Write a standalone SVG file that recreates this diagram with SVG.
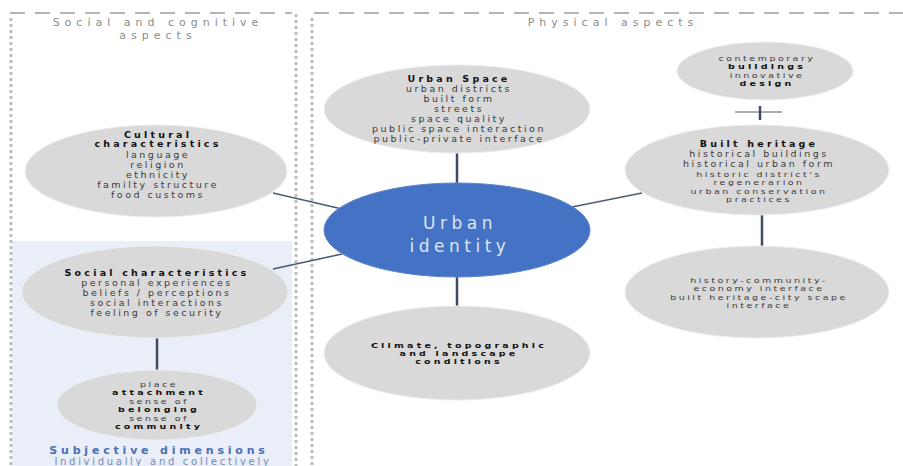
<svg xmlns="http://www.w3.org/2000/svg" width="903" height="466" viewBox="0 0 903 466">
<style>
.bg{fill:#ffffff}
.ell{fill:#d9d9d9;stroke:#eeeeee;stroke-width:1}
.t{font-family:"DejaVu Sans",sans-serif;font-size:9.5px;fill:#3a3a3a;letter-spacing:2.5px;text-anchor:middle}
.b{font-family:"DejaVu Sans",sans-serif;font-size:9.5px;font-weight:bold;fill:#111;letter-spacing:3.2px;text-anchor:middle}
.hdr{font-family:"DejaVu Sans",sans-serif;font-size:11px;fill:#8c8c8c;letter-spacing:5px;text-anchor:middle}
.dashH{stroke:#b5b5b5;stroke-width:2;stroke-dasharray:15 10;fill:none}
.dashV{stroke:#bdbdbd;stroke-width:3;stroke-dasharray:3 3;fill:none}
.con{stroke:#4a5a72;stroke-width:1.5;fill:none}
.conT{stroke:#3f4c62;stroke-width:2.5;fill:none}
</style>
<rect class="bg" x="0" y="0" width="903" height="466"/>
<rect x="12" y="241" width="280" height="225" fill="#e9eef8"/>
<g id="frames">
<line class="dashH" x1="10" y1="13" x2="292" y2="13"/>
<line class="dashH" x1="314" y1="13" x2="903" y2="13"/>
<line class="dashV" x1="11" y1="18" x2="11" y2="466"/>
<line class="dashV" x1="296" y1="14" x2="296" y2="466"/>
<line class="dashV" x1="312" y1="18" x2="312" y2="466"/>
<text class="hdr" x="158" y="26">Social and cognitive</text>
<text class="hdr" x="158" y="39">aspects</text>
<text class="hdr" x="613" y="26">Physical aspects</text>
</g>
<g id="connectors">
<line class="con" x1="273" y1="193" x2="342" y2="209"/>
<line class="con" x1="273" y1="269" x2="342" y2="254"/>
<line class="con" x1="572" y1="207" x2="642" y2="193"/>
<line class="conT" x1="457" y1="152" x2="457" y2="184"/>
<line class="conT" x1="457" y1="276" x2="457" y2="308"/>
<line class="conT" x1="762" y1="214" x2="762" y2="247"/>
<line class="conT" x1="157" y1="338" x2="157" y2="370"/>
<line stroke="#8a8f98" stroke-width="1.5" x1="735" y1="112" x2="782" y2="112"/>
<line stroke="#3f4c62" stroke-width="2.5" x1="760" y1="106" x2="760" y2="120"/>
</g>
<g id="cultural">
<ellipse class="ell" cx="156" cy="171" rx="131" ry="46"/>
<text class="b" transform="translate(158,138) scale(1,0.85)">Cultural</text>
<text class="b" transform="translate(158,147) scale(1,0.85)">characteristics</text>
<text class="t" x="158" y="158">language</text>
<text class="t" x="158" y="168">religion</text>
<text class="t" x="158" y="178">ethnicity</text>
<text class="t" x="158" y="188">familty structure</text>
<text class="t" x="158" y="198">food customs</text>
</g>
<g id="social">
<ellipse class="ell" cx="155" cy="292" rx="133" ry="46"/>
<text class="b" x="157" y="276">Social characteristics</text>
<text class="t" x="157" y="286">personal experiences</text>
<text class="t" x="157" y="296">beliefs / perceptions</text>
<text class="t" x="157" y="306">social interactions</text>
<text class="t" x="157" y="316">feeling of security</text>
</g>
<g id="place">
<ellipse class="ell" cx="157" cy="405" rx="100" ry="35"/>
<text class="t" transform="translate(159,387) scale(1,0.75)">place</text>
<text class="b" transform="translate(159,395) scale(1,0.75)">attachment</text>
<text class="t" transform="translate(159,404) scale(1,0.75)">sense of</text>
<text class="b" transform="translate(159,412) scale(1,0.75)">belonging</text>
<text class="t" transform="translate(159,421) scale(1,0.75)">sense of</text>
<text class="b" transform="translate(159,429) scale(1,0.75)">community</text>
</g>
<g id="subjective">
<text x="159" y="454" font-family="DejaVu Sans, sans-serif" font-size="11" font-weight="bold" fill="#4a6fb3" letter-spacing="3.8" text-anchor="middle">Subjective dimensions</text>
<text x="163" y="465" font-family="DejaVu Sans, sans-serif" font-size="10" fill="#6d8cc2" letter-spacing="2.7" text-anchor="middle">Individually and collectively</text>
</g>
<g id="urban-space">
<ellipse class="ell" cx="457" cy="109" rx="133" ry="44"/>
<text class="b" x="459" y="82">Urban Space</text>
<text class="t" x="459" y="92">urban districts</text>
<text class="t" x="459" y="102">built form</text>
<text class="t" x="459" y="112">streets</text>
<text class="t" x="459" y="122">space quality</text>
<text class="t" x="459" y="132">public space interaction</text>
<text class="t" x="459" y="142">public-private interface</text>
</g>
<g id="urban-identity">
<ellipse cx="457" cy="230" rx="133" ry="47" fill="#4472c4" stroke="#5b84cc" stroke-width="1"/>
<text x="460" y="229" font-family="DejaVu Sans, sans-serif" font-size="17" fill="#dce6f4" letter-spacing="4.5" text-anchor="middle">Urban</text>
<text x="460" y="252" font-family="DejaVu Sans, sans-serif" font-size="17" fill="#dce6f4" letter-spacing="4.5" text-anchor="middle">identity</text>
</g>
<g id="climate">
<ellipse class="ell" cx="457" cy="353" rx="133" ry="47"/>
<text class="b" transform="translate(459,348) scale(1,0.75)">Climate, topographic</text>
<text class="b" transform="translate(459,356) scale(1,0.75)">and landscape</text>
<text class="b" transform="translate(459,364) scale(1,0.75)">conditions</text>
</g>
<g id="contemporary">
<ellipse class="ell" cx="765" cy="71" rx="88" ry="29"/>
<text class="t" transform="translate(767,61) scale(1,0.75)">contemporary</text>
<text class="b" transform="translate(767,69) scale(1,0.75)">buildings</text>
<text class="t" transform="translate(767,78) scale(1,0.75)">innovative</text>
<text class="b" transform="translate(767,86) scale(1,0.75)">design</text>
</g>
<g id="built-heritage">
<ellipse class="ell" cx="757" cy="170" rx="132" ry="45"/>
<text class="b" x="759" y="147">Built heritage</text>
<text class="t" x="759" y="157">historical buildings</text>
<text class="t" x="759" y="167">historical urban form</text>
<text class="t" transform="translate(759,177) scale(1,0.75)">historic district's</text>
<text class="t" transform="translate(759,185) scale(1,0.75)">regenerarion</text>
<text class="t" transform="translate(759,194) scale(1,0.75)">urban conservation</text>
<text class="t" transform="translate(759,202) scale(1,0.75)">practices</text>
</g>
<g id="history">
<ellipse class="ell" cx="757" cy="292" rx="132" ry="46"/>
<text class="t" transform="translate(759,283) scale(1,0.75)">history-community-</text>
<text class="t" transform="translate(759,291) scale(1,0.75)">economy interface</text>
<text class="t" transform="translate(759,300) scale(1,0.75)">built heritage-city scape</text>
<text class="t" transform="translate(759,308) scale(1,0.75)">interface</text>
</g>
</svg>
